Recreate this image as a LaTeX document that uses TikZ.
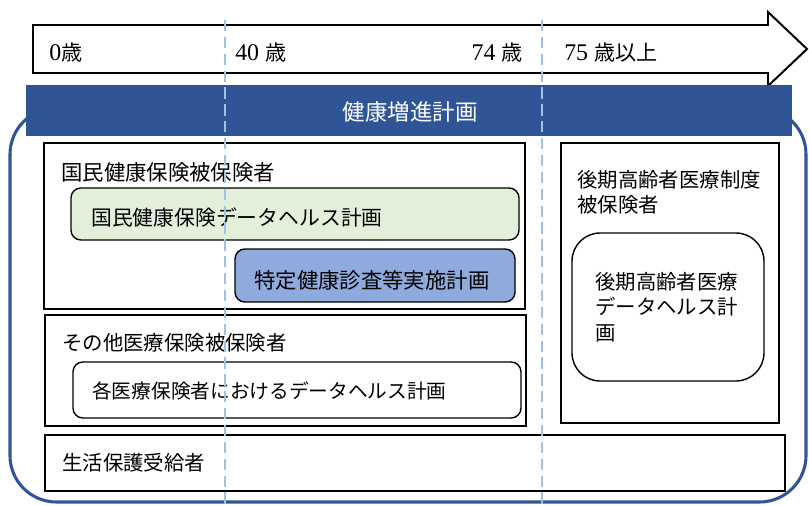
\documentclass[tikz,border=0pt]{standalone}
\usepackage{fontspec}
\setmainfont{Liberation Serif}
\newfontfamily\jp{Noto Sans CJK JP}
\usetikzlibrary{positioning}
\definecolor{banner}{HTML}{2F5597}
\definecolor{guideblue}{HTML}{9DC3E6}
\definecolor{greenfill}{HTML}{E2F0D9}
\definecolor{bluefill}{HTML}{8FAADC}
\newcommand{\jpage}[1]{{\jp\fontsize{15}{18}\selectfont #1}}

\begin{document}
\begin{tikzpicture}[
    x=0.025cm, y=-0.025cm,
    txt/.style={anchor=west, inner sep=0pt, font=\jp\fontsize{14.5}{18}\selectfont},
    agetxt/.style={anchor=west, inner sep=0pt, font=\fontsize{17}{18}\selectfont},
    box/.style={draw=black, line width=1pt, fill=white},
    plan/.style={draw=black, line width=1pt, rounded corners=7pt},
    guide/.style={draw=guideblue, line width=1.8pt, dash pattern=on 8pt off 4pt}
]
    \useasboundingbox (0,0) rectangle (809,506);
    % outer frame
    \draw[banner, line width=2.2pt, rounded corners=33pt] (10,108) rectangle (806,502);
    % age arrow
    \draw[line width=1.4pt, fill=white] (33,25) -- (768,25) -- (768,12)
        -- (807,49) -- (768,86) -- (768,73) -- (33,73) -- cycle;
    \node[agetxt] (age0) at (49,53) {0\jpage{歳}};
    \node[agetxt] (age40) at (235,53) {40 \jpage{歳}};
    \node[agetxt, anchor=east] (age74) at (523,53) {74 \jpage{歳}};
    \node[agetxt] (age75) at (564,53) {75 \jpage{歳以上}};
    % banner
    \fill[banner] (26,85) rectangle (792,136);
    \node[text=white, font=\jp\fontsize{16}{18}\selectfont] (kenko) at (410,112) {健康増進計画};
    % national health insurance
    \draw[box] (44,143) rectangle (525,309);
    \draw[plan, fill=greenfill] (71,188) rectangle (519,240);
    \draw[plan, fill=bluefill] (235,249) rectangle (515,302);
    \node[txt, font=\jp\fontsize{15.2}{18}\selectfont] (kokuho) at (61,172) {国民健康保険被保険者};
    \node[txt, font=\jp\fontsize{14.8}{18}\selectfont] (kokuhoDH) at (91,218) {国民健康保険データヘルス計画};
    \node[txt, font=\jp\fontsize{15.2}{18}\selectfont] (tokutei) at (254,280) {特定健康診査等実施計画};
    % other insurers
    \draw[box] (45,315) rectangle (526,426);
    \draw[plan] (73,362) rectangle (521,418);
    \node[txt] (sonota) at (62,343) {その他医療保険被保険者};
    \node[txt, font=\jp\fontsize{14}{18}\selectfont] (kakuDH) at (92,391) {各医療保険者におけるデータヘルス計画};
    % welfare
    \draw[box] (45,435) rectangle (785,491);
    \node[txt] (seiho) at (62,463) {生活保護受給者};
    % late-stage elderly
    \draw[box] (561,143) rectangle (779,423);
    \draw[plan, rounded corners=20pt] (572,233) rectangle (764,381);
    \node[txt, anchor=north west, align=left] (kouki) at (577,170)
        {後期高齢者医療制度\\被保険者};
    \node[txt, anchor=north west, align=left] (koukiDH) at (595,272)
        {後期高齢者医療\\データヘルス計\\画};
    % age guides
    \foreach \gx in {225,542}
        \draw[guide] (\gx,20) -- (\gx,506);
\end{tikzpicture}
\end{document}
